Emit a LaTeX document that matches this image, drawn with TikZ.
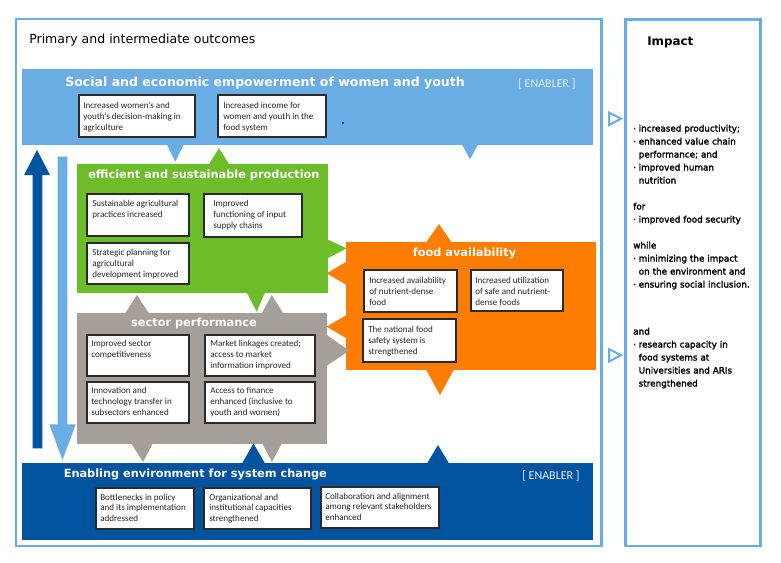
\documentclass[tikz,border=0pt]{standalone}
\usepackage{fontspec}
\setmainfont{DejaVu Sans}
\newfontfamily\carl{Carlito}
\newfontfamily\impf[FakeBold=2]{DejaVu Sans}
\usetikzlibrary{calc}
\definecolor{lb}{HTML}{6AADE4}
\definecolor{db}{HTML}{00549F}
\definecolor{gr}{HTML}{6CBD29}
\definecolor{og}{HTML}{FF7D00}
\definecolor{gy}{HTML}{A69E98}
\definecolor{bordr}{HTML}{2A2A2A}
\tikzset{
  panel/.style={anchor=north west, inner sep=0pt, outer sep=0pt, draw=none},
  framebox/.style={anchor=north west, inner sep=0pt, outer sep=0pt, draw=lb, line width=2.1pt},
  tbox/.style={draw=bordr, fill=white, line width=0.8pt, anchor=north west, inner sep=0pt, outer sep=0pt},
  btext/.style={font=\carl\fontsize{6.8}{8.25}\selectfont, align=left, inner sep=0pt, anchor=north west, text=black!85},
  etext/.style={font=\carl\fontsize{6.8}{7.9}\selectfont, align=left, inner sep=0pt, anchor=north west, text=black!85},
  bandtitle/.style={font=\bfseries\fontsize{8.5}{10}\selectfont, text=white, inner sep=0pt},
  enabler/.style={font=\carl\fontsize{9}{10}\selectfont, inner sep=0pt, anchor=west},
  imptext/.style={font=\impf\fontsize{6.6}{9.75}\selectfont, align=left, text width=100pt, inner sep=0pt, anchor=base west},
  hollowtri/.style={draw=lb, line width=1.5pt, fill=white, line join=miter},
}
% style, name, x, y, w, h, padx, pady, text
\newcommand\tb[9]{%
  \node[tbox, minimum width={#5*0.75pt}, minimum height={#6*0.75pt}] (#2) at (#3,#4) {};
  \node[#1] (#2t) at ($(#2.north west)+(#7,#8)$) {#9};}
\newcommand\bul{\makebox[4.1pt][l]{·}}
\newcommand\ind{\hspace*{4.1pt}}
\begin{document}
\begin{tikzpicture}[x=0.75pt, y=-0.75pt]
\useasboundingbox (0,0) rectangle (781,562);
\fill[white] (0,0) rectangle (781,562);

% frames
\node[framebox, minimum width={585.5*0.75pt}, minimum height={527*0.75pt}] (outer) at (16,19) {};
\node[framebox, minimum width={135*0.75pt}, minimum height={526.3*0.75pt}] (impact) at (625.3,19.7) {};

\node[font=\fontsize{9.4}{11}\selectfont, anchor=west, inner sep=0pt] (ptitle) at (29,40.5) {Primary and intermediate outcomes};
\node[font=\bfseries\fontsize{8.9}{11}\selectfont, anchor=west, inner sep=0pt] (itile) at (647,42) {Impact};

% social band
\node[panel, fill=lb, minimum width={571*0.75pt}, minimum height={76*0.75pt}] (soc) at (22,69) {};
\fill[lb] (166.7,144) -- (184,144) -- (175.3,161.7) -- cycle;
\fill[lb] (461.7,144) -- (478.3,144) -- (470,159.3) -- cycle;
\node[bandtitle, font=\bfseries\fontsize{9.4}{11}\selectfont, anchor=west] (soct) at (65,83.5) {Social and economic empowerment of women and youth};
\node[enabler, text=white!80!lb] (soce) at (518,83.5) {[ ENABLER ]};
\tb{btext}{s1}{79}{95}{116}{42}{4}{6.5}{Increased women’s and\\youth’s decision-making in\\agriculture}
\tb{btext}{s2}{218}{95}{108}{42}{5}{6.5}{Increased income for\\women and youth in the\\food system}
\fill[blue] (343,123) circle (1.2);

% left arrows
\fill[db] (32.7,448.3) -- (32.7,175) -- (24,175) -- (37,150) -- (50,175) -- (42.3,175) -- (42.3,448.3) -- cycle;
\fill[lb] (57.7,156.7) -- (67.3,156.7) -- (67.3,424.3) -- (75.7,424.3) -- (62.5,460) -- (49.3,424.3) -- (57.7,424.3) -- cycle;

% orange panel
\node[panel, fill=og, minimum width={250*0.75pt}, minimum height={128*0.75pt}] (food) at (346,242) {};
\fill[og] (426,242.5) -- (451.7,242.5) -- (439,224) -- cycle;
\fill[og] (426,369.5) -- (454,369.5) -- (440,395) -- cycle;
\fill[og] (346.5,261.7) -- (326.7,273.3) -- (346.5,285) -- cycle;
\fill[og] (346.5,315) -- (326.7,326.7) -- (346.5,338.3) -- cycle;
\node[bandtitle] (foodt) at (464.5,253) {food availability};
\tb{btext}{o1}{364}{270}{93}{42}{5}{6.5}{Increased availability\\of nutrient-dense\\food}
\tb{btext}{o2}{471}{270}{92}{41}{4}{6.5}{Increased utilization\\of safe and nutrient-\\dense foods}
\tb{btext}{o3}{363}{319}{93}{43}{5}{6.5}{The national food\\safety system is\\strengthened}

% green panel
\node[panel, fill=gr, minimum width={250.5*0.75pt}, minimum height={129*0.75pt}] (prod) at (77,164) {};
\fill[gr] (208.7,164.5) -- (229.3,164.5) -- (219,148.3) -- cycle;
\fill[gr] (327,239.3) -- (346.7,248.3) -- (327,258.5) -- cycle;
\fill[gr] (246.7,292.5) -- (265,292.5) -- (256.7,311.7) -- cycle;
\node[bandtitle, anchor=west] (prodt) at (88,175) {efficient and sustainable production};
\tb{btext}{g1}{87}{194}{102}{42}{5}{5.5}{Sustainable agricultural\\practices increased}
\tb{btext}{g2}{204}{194}{98}{43}{9}{5.5}{Improved\\functioning of input\\supply chains}
\tb{btext}{g3}{87}{243}{102}{41}{5}{5.5}{Strategic planning for\\agricultural\\development improved}

% gray panel
\node[panel, fill=gy, minimum width={250*0.75pt}, minimum height={130.5*0.75pt}] (sect) at (77,313) {};
\fill[gy] (125,313.5) -- (149,313.5) -- (137,295) -- cycle;
\fill[gy] (261.7,313.5) -- (283.3,313.5) -- (271.7,295) -- cycle;
\fill[gy] (326.8,335) -- (349.3,350.7) -- (326.8,365.7) -- cycle;
\fill[gy] (131,443) -- (153,443) -- (143,462) -- cycle;
\fill[gy] (262,443) -- (282,443) -- (272,462) -- cycle;
\node[bandtitle] (sectt) at (194,323) {sector performance};
\tb{btext}{p1}{87}{335}{102}{41}{4}{4.5}{Improved sector\\competitiveness}
\tb{btext}{p2}{205}{335}{110}{41}{5}{4.5}{Market linkages created;\\access to market\\information improved}
\tb{btext}{p3}{87}{382}{102}{41}{4}{5}{Innovation and\\technology transfer in\\subsectors enhanced}
\tb{btext}{p4}{205}{382}{110}{41}{5}{5}{Access to finance\\enhanced (inclusive to\\youth and women)}

% enabling band
\node[panel, fill=db, minimum width={571*0.75pt}, minimum height={77*0.75pt}] (env) at (22,463) {};
\fill[db] (242,463.5) -- (265,463.5) -- (253.5,443.5) -- cycle;
\fill[db] (427,463.5) -- (449,463.5) -- (438,445) -- cycle;
\node[bandtitle, anchor=west] (envt) at (63.5,474) {Enabling environment for system change};
\node[enabler, text=white!90!db] (enve) at (522,475.5) {[ ENABLER ]};
\tb{etext}{e1}{96}{488}{98}{41}{4}{5.5}{Bottlenecks in policy\\and its implementation\\addressed}
\tb{etext}{e2}{204}{488}{107}{41}{5}{5.5}{Organizational and\\institutional capacities\\strengthened}
\tb{etext}{e3}{321}{487}{118}{41}{4}{5.5}{Collaboration and alignment\\among relevant stakeholders\\enhanced}

% impact arrows
\draw[hollowtri] (609,112.5) -- (621,118.7) -- (609,125) -- cycle;
\draw[hollowtri] (609,349) -- (621,355.2) -- (609,361.5) -- cycle;

% impact text
\node[imptext] (imp1) at (633,131.5) {\bul increased productivity;\\
\bul enhanced value chain\\
\ind performance; and\\
\bul improved human\\
\ind nutrition\\
\mbox{}\\
for\\
\bul improved food security\\
\mbox{}\\
while\\
\bul minimizing the impact\\
\ind on the environment and\\
\bul ensuring social inclusion.};
\node[imptext] (imp2) at (633,334.5) {and\\
\bul research capacity in\\
\ind food systems at\\
\ind Universities and ARIs\\
\ind strengthened};
\end{tikzpicture}
\end{document}
